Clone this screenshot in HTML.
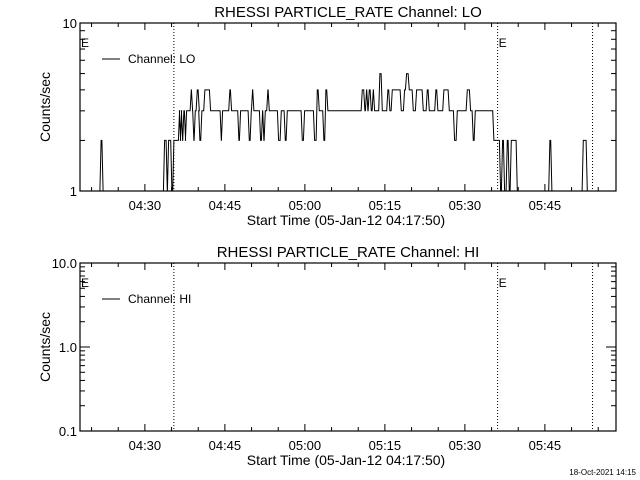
<!DOCTYPE html>
<html><head><meta charset="utf-8"><style>
body{margin:0;background:#fff}
svg{display:block;font-family:"Liberation Sans",sans-serif}
text{fill:#000}
</style></head><body>
<svg id="c" width="640" height="480" xmlns="http://www.w3.org/2000/svg">
<rect width="640" height="480" fill="#fff"/>
</svg>
<script>
// LO channel: step change times (minutes after 04:17:50) and counts/sec
const loTimes=[0,3.84,4.22,15.75,16.26,16.5,17.12,17.49,18.56,18.75,18.94,19.13,19.37,19.69,19.88,20.76,21.0,21.24,21.51,21.88,22.26,22.37,22.74,23.31,24.38,26.38,26.63,27.99,28.31,29.68,30.0,31.63,32.01,32.25,32.49,33.75,34.13,34.37,34.63,35.12,35.38,37.13,37.63,38.38,38.76,41.57,42.0,43.88,44.38,44.76,45.62,45.99,46.37,52.82,53.31,53.63,53.87,54.13,54.51,54.88,55.13,56.12,56.57,57.62,57.99,58.44,60.13,60.75,61.13,61.63,62.38,63.0,64.26,65.01,65.38,66.62,67.0,68.12,69.13,70.13,70.63,72.51,73.13,73.63,74.01,77.49,78.75,79.13,79.5,80.01,80.38,80.76,81.88,87.99,88.37,94.26,95.01];
const loValues=[1,2,1,2,1,2,1,2,3,2,3,2,3,2,3,4,3,2,3,4,3,2,3,4,3,2,3,4,3,2,3,2,3,4,3,2,3,2,3,4,3,2,3,2,3,2,3,2,4,3,2,4,3,4,3,4,3,4,3,4,3,5,3,4,3,4,3,4,5,4,3,4,3,4,3,4,3,4,3,2,3,4,3,2,3,2,1,2,1,2,1,2,1,2,1,2,1];
const xTickLabels=["04:30","04:45","05:00","05:15","05:30","05:45"];
const xTickMinutes=[12.167,27.167,42.167,57.167,72.167,87.167];
const markerMinutes=[17.6,78.3,96.1];
const endMinute=100.5;

const svg=document.getElementById('c');
const NS='http://www.w3.org/2000/svg';
function el(tag,attrs,parent){const e=document.createElementNS(NS,tag);for(const k in attrs)e.setAttribute(k,attrs[k]);(parent||svg).appendChild(e);return e;}
const X0=80,X1=616;
const xs=t=>X0+(X1-X0)*t/endMinute;

function panel(top,bot,ymin,ymax,title,chan,yLabels,key){
  const g=el('g',{});
  
  
  const ys=v=>bot-(bot-top)*(Math.log10(v)-Math.log10(ymin))/(Math.log10(ymax)-Math.log10(ymin));
  const t=el('text',{x:348,y:top-6,'text-anchor':'middle','font-size':15},g);t.textContent=title;
  
  const fr=el('rect',{x:X0,y:top,width:X1-X0,height:bot-top,fill:'none',stroke:'#000','stroke-width':1.2},g);
  
  for(let m=2.167;m<endMinute;m+=5){
    const major=Math.abs(((m-12.167)/15)-Math.round((m-12.167)/15))<0.01;
    const L=major?7:4,x=xs(m);
    const a=el('line',{x1:x,x2:x,y1:bot,y2:bot-L,stroke:'#000'},g);
    
    el('line',{x1:x,x2:x,y1:top,y2:top+L,stroke:'#000'},g);
  }
  xTickLabels.forEach((s,i)=>{const tt=el('text',{x:xs(xTickMinutes[i]),y:bot+19,'text-anchor':'middle','font-size':13},g);tt.textContent=s;
    });
  const xt=el('text',{x:346,y:bot+34,'text-anchor':'middle','font-size':14},g);xt.textContent='Start Time (05-Jan-12 04:17:50)';
  
  for(let d=ymin;d<ymax*0.999;d*=10){
    for(let k=1;k<10;k++){const v=d*k,y=ys(v),L=k==1?10:5;
      el('line',{x1:X0,x2:X0+L,y1:y,y2:y,stroke:'#000'},g);
      el('line',{x1:X1,x2:X1-L,y1:y,y2:y,stroke:'#000'},g);}
  }
  el('line',{x1:X0,x2:X0+10,y1:top,y2:top,stroke:'#000'},g);
  yLabels.forEach(v=>{const tt=el('text',{x:X0-3,y:ys(v.v)+5,'text-anchor':'end','font-size':13},g);tt.textContent=v.s;
    });
  const yc=(top+bot)/2;
  const yt=el('text',{x:50,y:yc,'text-anchor':'middle','font-size':14,transform:`rotate(-90 50 ${yc})`},g);yt.textContent='Counts/sec';
  
  markerMinutes.forEach(m=>{const l=el('line',{x1:xs(m),x2:xs(m),y1:top,y2:bot,stroke:'#000','stroke-dasharray':'1,2'},g);
    });
  [[X0+1,'E'],[xs(markerMinutes[1])+1,'E']].forEach(p=>{const e=el('text',{x:p[0],y:top+24,'font-size':12},g);e.textContent=p[1];
    });
  const ly=top+36;
  el('line',{x1:102,x2:120,y1:ly,y2:ly,stroke:'#000'},g);
  const lt=el('text',{x:128,y:ly+4,'font-size':12},g);lt.textContent='Channel: '+chan;
  
  return ys;
}
const ysTop=panel(23,191,1,10,'RHESSI PARTICLE_RATE Channel: LO','LO',[{v:1,s:'1'},{v:10,s:'10'}],'lo');
panel(263,431,0.1,10,'RHESSI PARTICLE_RATE Channel: HI','HI',[{v:0.1,s:'0.1'},{v:1,s:'1.0'},{v:10,s:'10.0'}],'hi');

let pts=[];
for(let i=0;i<loTimes.length;i++){
  const t0=loTimes[i],t1=i+1<loTimes.length?loTimes[i+1]:endMinute,y=ysTop(loValues[i]);
  pts.push((xs(t0)+0.6).toFixed(1)+','+y.toFixed(1));
  pts.push((xs(t1)-0.6).toFixed(1)+','+y.toFixed(1));
}
const line=el('polyline',{points:pts.join(' '),fill:'none',stroke:'#000','stroke-width':1});



const ft=el('text',{x:636,y:475,'text-anchor':'end','font-size':8});
ft.textContent='18-Oct-2021 14:15';


</script>
</body></html>
